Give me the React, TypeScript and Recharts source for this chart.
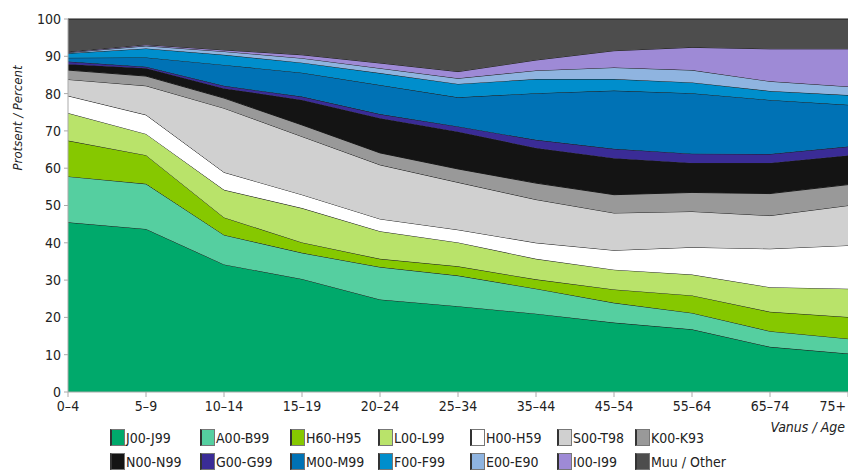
import React from 'react';
import { AreaChart, Area, XAxis, YAxis } from 'recharts';

const ages = ['0–4', '5–9', '10–14', '15–19', '20–24', '25–34', '35–44', '45–54', '55–64', '65–74', '75+'];

// share of each diagnosis group, percent (bottom to top of the stack)
const j00 = [45.5, 43.7, 34.2, 30.3, 24.8, 23.0, 21.0, 18.6, 16.8, 12.1, 10.3];
const a00 = [12.3, 12.1, 7.9, 7.0, 8.7, 8.2, 6.7, 5.3, 4.4, 4.2, 4.0];
const h60 = [9.6, 7.7, 4.7, 2.8, 2.2, 2.5, 2.5, 3.6, 4.7, 5.2, 5.8];
const l00 = [7.4, 5.7, 7.4, 9.2, 7.4, 6.4, 5.5, 5.3, 5.6, 6.6, 7.6];
const h00 = [4.6, 5.1, 4.7, 3.6, 3.3, 3.4, 4.3, 5.2, 7.3, 10.3, 11.6];
const s00 = [4.4, 7.8, 17.2, 15.6, 14.5, 12.7, 11.6, 10.0, 9.6, 8.9, 10.7];
const k00 = [2.5, 2.6, 2.7, 3.1, 3.2, 3.6, 4.4, 4.9, 5.1, 5.9, 5.6];
const n00 = [1.6, 2.1, 2.6, 6.7, 9.3, 10.0, 9.4, 9.8, 7.9, 8.2, 7.8];
const g00 = [0.7, 0.4, 0.7, 0.9, 1.1, 1.4, 2.2, 2.5, 2.5, 2.4, 2.4];
const m00 = [1.0, 2.5, 5.6, 6.4, 7.8, 7.8, 12.5, 15.6, 16.2, 14.5, 11.2];
const f00 = [1.2, 2.4, 2.7, 2.7, 3.2, 3.6, 3.8, 3.1, 2.9, 2.4, 2.6];
const e00 = [0.2, 0.7, 0.9, 1.2, 1.3, 1.5, 2.3, 3.1, 3.3, 2.6, 2.3];
const i00 = [0.2, 0.3, 0.4, 0.9, 1.4, 1.8, 2.8, 4.5, 6.1, 8.7, 10.1];
const other = [8.8, 6.9, 8.3, 9.6, 11.8, 14.1, 11.0, 8.5, 7.6, 8.0, 8.0];

const yTicks = [0, 10, 20, 30, 40, 50, 60, 70, 80, 90, 100];

const series = [
  { key: 'J00-J99', values: j00, color: '#00a96b' },
  { key: 'A00-B99', values: a00, color: '#55cfa0' },
  { key: 'H60-H95', values: h60, color: '#86c800' },
  { key: 'L00-L99', values: l00, color: '#b9e36a' },
  { key: 'H00-H59', values: h00, color: '#ffffff' },
  { key: 'S00-T98', values: s00, color: '#d0d0d0' },
  { key: 'K00-K93', values: k00, color: '#999999' },
  { key: 'N00-N99', values: n00, color: '#141414' },
  { key: 'G00-G99', values: g00, color: '#3a2c96' },
  { key: 'M00-M99', values: m00, color: '#0072b5' },
  { key: 'F00-F99', values: f00, color: '#008ecc' },
  { key: 'E00-E90', values: e00, color: '#8fb4e0' },
  { key: 'I00-I99', values: i00, color: '#9e8ad6' },
  { key: 'Muu / Other', values: other, color: '#4d4d4d' },
];

const data = ages.map((age, i) => {
  const row: Record<string, any> = { age };
  series.forEach((s) => { row[s.key] = s.values[i]; });
  return row;
});

const font = '"DejaVu Sans Condensed", "Liberation Sans Narrow", Roboto, sans-serif';
const legendCols = [110, 200, 290, 378, 470, 557, 635];

const AgeTick = ({ x, y, payload, index }: any) => {
  const last = index === ages.length - 1;
  return (
    <text x={last ? x - 2 : x} y={y + 12} textAnchor={last ? 'end' : 'middle'}
      fill="#222" fontSize={14} fontFamily={font}>
      {payload.value}
    </text>
  );
};

export default function App() {
  return (
    <div style={{ position: 'absolute', left: 0, top: 0, width: 848, height: 470, background: '#fff', fontFamily: font }}>
      <AreaChart width={848} height={470} data={data} margin={{ top: 19, right: 0, left: 18, bottom: 48 }}>
        <XAxis dataKey="age" height={30} tick={<AgeTick />} tickSize={5}
          axisLine={{ stroke: '#aaa' }} tickLine={{ stroke: '#aaa' }} interval={0} />
        <YAxis domain={[0, 100]} ticks={yTicks} width={50} tickSize={4} tickMargin={3}
          axisLine={{ stroke: '#aaa' }} tickLine={{ stroke: '#aaa' }}
          tick={{ fill: '#222', fontSize: 14, fontFamily: font }} />
        {series.map((s) => (
          <Area key={s.key} dataKey={s.key} stackId="1" type="linear"
            fill={s.color} fillOpacity={1} stroke="#1c1c1c" strokeWidth={1}
            isAnimationActive={false} />
        ))}
      </AreaChart>

      <div style={{ position: 'absolute', left: 17, top: 118, transform: 'translate(-50%, -50%) rotate(-90deg)',
        whiteSpace: 'nowrap', fontStyle: 'italic', fontSize: 13, color: '#222' }}>
        Protsent / Percent
      </div>
      <div style={{ position: 'absolute', right: 3, top: 419, fontStyle: 'italic', fontSize: 14, color: '#222' }}>
        Vanus / Age
      </div>

      {series.map((s, i) => (
        <div key={s.key} style={{ position: 'absolute', left: legendCols[i % 7], top: i < 7 ? 429 : 453,
          display: 'flex', alignItems: 'center', fontSize: 14, color: '#222', whiteSpace: 'nowrap' }}>
          <span style={{ display: 'inline-block', width: 12, height: 15, background: s.color,
            border: '1px solid #777', borderLeft: '2px solid #333', marginRight: 1 }} />
          {s.key}
        </div>
      ))}
    </div>
  );
}
